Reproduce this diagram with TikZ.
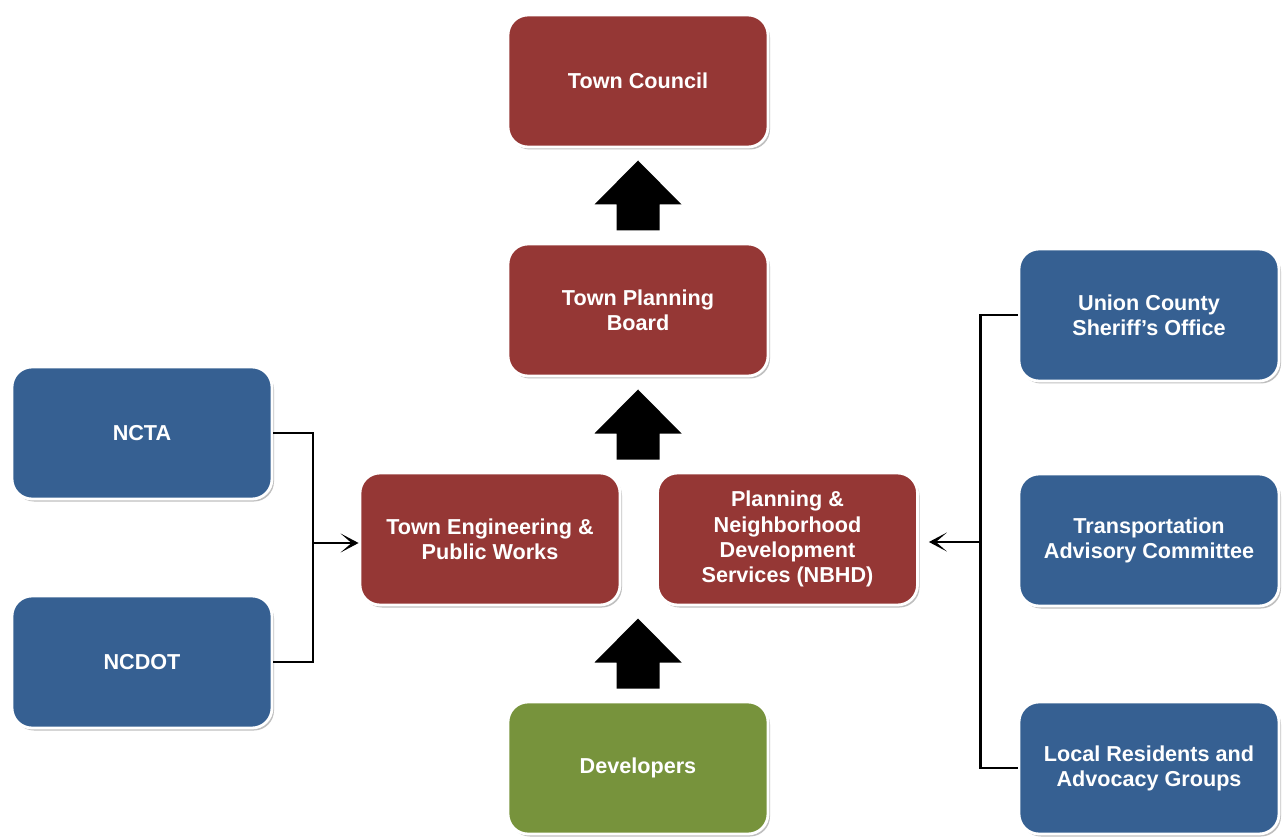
\documentclass[tikz,border=0pt]{standalone}
\usepackage{fontspec}
\setmainfont{Liberation Sans}
\usetikzlibrary{arrows.meta,calc,shadows}

\definecolor{boardred}{RGB}{149,55,53}
\definecolor{agencyblue}{RGB}{54,96,146}
\definecolor{devgreen}{RGB}{119,147,60}

\tikzset{
    box/.style={rectangle, rounded corners=0.4cm, draw=white, line width=1.6pt,
        minimum width=5.2cm, minimum height=2.64cm, align=center,
        text=white, font=\fontsize{12.3}{14.3}\selectfont\bfseries,
        drop shadow={shadow xshift=0.04cm, shadow yshift=-0.05cm, fill=black, opacity=0.25}},
    council/.style={box, fill=boardred},
    agency/.style={box, fill=agencyblue},
    private/.style={box, fill=devgreen},
    link/.style={line width=1.7pt, black},
}

\begin{document}
\begin{tikzpicture}

\useasboundingbox (0,0) rectangle (25.74,16.76);

% Town boards
\node[council] (council) at (12.76, 15.14) {Town Council};
\node[council] (board) at (12.76, 10.56) {Town Planning\\Board};
\node[council] (engineering) at (9.80, 5.98) {Town Engineering \&\\Public Works};
\node[council] (nbhd) at (15.75, 5.98) {Planning \&\\Neighborhood\\Development\\Services (NBHD)};
\node[private] (developers) at (12.76, 1.40) {Developers};

% State agencies
\node[agency] (ncta) at (2.84, 8.10) {NCTA};
\node[agency] (ncdot) at (2.84, 3.52) {NCDOT};

% Local groups
\node[agency] (sheriff) at (22.98, 10.46) {Union County\\Sheriff’s Office};
\node[agency] (tac) at (22.98, 5.96) {Transportation\\Advisory Committee};
\node[agency] (residents) at (22.98, 1.40) {Local Residents and\\Advocacy Groups};

% Block arrows between levels
\coordinate (midtop) at (board.south |- engineering.north);
\coordinate (midbot) at (board.south |- engineering.south);
\foreach \lo/\hi in {board.north/council.south, midtop/board.south, developers.north/midbot} {
    \fill[black] ($(\lo)!0.5!(\hi)$) ++(0,0.70) -- ++(0.87,-0.88) -- ++(-0.44,0)
        -- ++(0,-0.52) -- ++(-0.86,0) -- ++(0,0.52) -- ++(-0.44,0) -- cycle;
}

% Left bracket
\coordinate (lbus) at (6.26, 5.90);
\draw[link] (ncta.east) -| (lbus) |- (ncdot.east);
\draw[link,-{Stealth[length=3.6mm,width=3.8mm,inset=2.2mm]}] (lbus) -- (lbus -| engineering.west);

% Right bracket
\coordinate (rbus) at (19.60, 5.92);
\draw[link] (sheriff.west) -| (rbus) |- (residents.west);
\draw[link,-{Stealth[length=3.6mm,width=3.8mm,inset=2.2mm]}] (rbus) -- ([xshift=0.2cm]rbus -| nbhd.east);

\end{tikzpicture}
\end{document}
